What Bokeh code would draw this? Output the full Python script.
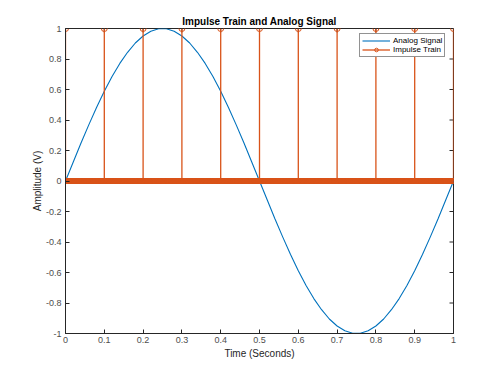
import numpy as np
from bokeh.plotting import figure
from bokeh.models import Legend, LegendItem, FixedTicker, Range1d, Title
from bokeh.embed import file_html
from bokeh.resources import INLINE

# Analog signal samples
t_signal = [round(0.02 * k, 2) for k in range(51)]
v_signal = [0.0, 0.125, 0.249, 0.368, 0.482, 0.588, 0.685, 0.771, 0.844, 0.905,
            0.951, 0.982, 0.998, 0.998, 0.982, 0.951, 0.905, 0.844, 0.771, 0.685,
            0.588, 0.482, 0.368, 0.249, 0.125, 0.0, -0.125, -0.249, -0.368, -0.482,
            -0.588, -0.685, -0.771, -0.844, -0.905, -0.951, -0.982, -0.998, -0.998, -0.982,
            -0.951, -0.905, -0.844, -0.771, -0.685, -0.588, -0.482, -0.368, -0.249, -0.125, 0.0]

# Impulse train: unit impulses every 0.1 s, zero elsewhere
t_impulse = [0.0, 0.1, 0.2, 0.3, 0.4, 0.5, 0.6, 0.7, 0.8, 0.9, 1.0]
v_impulse = [1, 1, 1, 1, 1, 1, 1, 1, 1, 1, 1]
t_zero = list(np.round(np.arange(0, 1.0001, 0.002), 3))
v_zero = [0] * len(t_zero)

x_ticks = [0, 0.1, 0.2, 0.3, 0.4, 0.5, 0.6, 0.7, 0.8, 0.9, 1]
y_ticks = [-1, -0.8, -0.6, -0.4, -0.2, 0, 0.2, 0.4, 0.6, 0.8, 1]
x_min, x_max = 0, 1
y_min, y_max = -1, 1

BLUE = "#0072BD"
ORANGE = "#D95319"
AX = "#262626"
FONT = "Liberation Sans"

p = figure(width=492, height=367, output_backend="svg", toolbar_location=None,
           x_range=Range1d(x_min, x_max), y_range=Range1d(y_min, y_max),
           min_border_left=65, min_border_right=39, min_border_top=28, min_border_bottom=34)
p.background_fill_color = "white"
p.border_fill_color = "white"
p.xgrid.visible = False
p.ygrid.visible = False
p.outline_line_color = AX
p.outline_line_width = 1

p.title = Title(text="Impulse Train and Analog Signal", align="center",
                text_font=FONT, text_font_size="10px", text_font_style="bold",
                text_color="#000000", offset=0, standoff=3)

for ax in (p.xaxis[0], p.yaxis[0]):
    ax.major_tick_in = 4
    ax.major_tick_out = 0
    ax.minor_tick_line_color = None
    ax.axis_line_color = AX
    ax.major_tick_line_color = AX
    ax.major_label_text_font = FONT
    ax.major_label_text_font_size = "9px"
    ax.major_label_text_color = "#4d4d4d"
    ax.axis_label_text_font = FONT
    ax.axis_label_text_font_size = "10px"
    ax.axis_label_text_font_style = "normal"
    ax.axis_label_text_color = "#262626"

p.xaxis[0].ticker = FixedTicker(ticks=x_ticks)
p.yaxis[0].ticker = FixedTicker(ticks=y_ticks)
p.xaxis[0].major_label_overrides = {t: ("%g" % t) for t in x_ticks}
p.yaxis[0].major_label_overrides = {t: ("%g" % t) for t in y_ticks}
p.xaxis[0].axis_label = "Time (Seconds)"
p.yaxis[0].axis_label = "Amplitude (V)"
p.xaxis[0].major_label_standoff = 3
p.yaxis[0].major_label_standoff = 4
p.xaxis[0].axis_label_standoff = 2
p.yaxis[0].axis_label_standoff = 0

# inward ticks on the top and right edges of the box
p.ray(x=x_ticks, y=[y_max] * len(x_ticks), length=4, length_units="screen",
      angle=-np.pi / 2, line_color=AX, line_width=1)
p.ray(x=[x_max] * len(y_ticks), y=y_ticks, length=4, length_units="screen",
      angle=np.pi, line_color=AX, line_width=1)

sig = p.line(t_signal, v_signal, line_color=BLUE, line_width=1.1)

stems = p.segment(x0=t_impulse, y0=[0] * len(t_impulse), x1=t_impulse, y1=v_impulse,
                  line_color=ORANGE, line_width=1.3)
zeros = p.scatter(t_zero, v_zero, marker="circle", size=5, fill_color=None,
                  line_color=ORANGE, line_width=1.2)
tops = p.scatter(t_impulse, v_impulse, marker="circle", size=6, fill_color=None,
                 line_color=ORANGE, line_width=1)

legend = Legend(items=[LegendItem(label="Analog Signal", renderers=[sig]),
                       LegendItem(label="Impulse Train", renderers=[stems, tops])],
                location=(294, 276), label_text_font=FONT, label_text_font_size="8px",
                label_text_color="#000000", glyph_width=28, glyph_height=9,
                label_height=9, label_standoff=3, padding=2, spacing=0, margin=0,
                border_line_color=AX, border_line_width=1, background_fill_color="white",
                background_fill_alpha=1)
p.add_layout(legend, "center")

open("out.html", "w").write(file_html(p, INLINE))
